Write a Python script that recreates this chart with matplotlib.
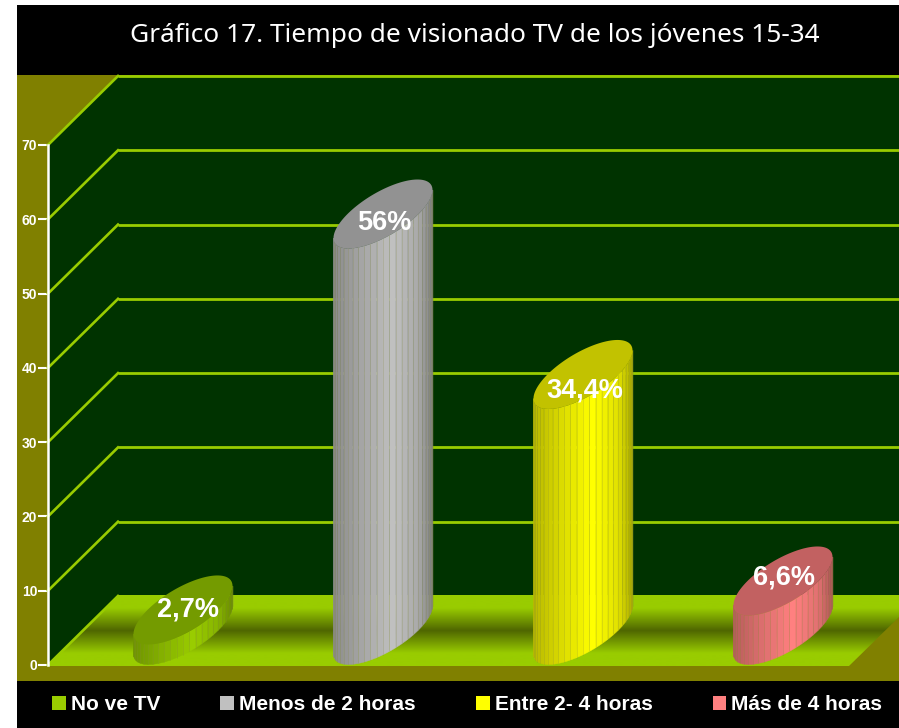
import numpy as np
import matplotlib
matplotlib.use('Agg')
import matplotlib.pyplot as plt
from matplotlib.colors import LinearSegmentedColormap, to_rgb
from matplotlib.patches import Patch, Polygon

categories = ['No ve TV', 'Menos de 2 horas', 'Entre 2- 4 horas', 'Más de 4 horas']
values = [2.7, 56, 34.4, 6.6]
value_labels = ['2,7%', '56%', '34,4%', '6,6%']
y_ticks = [0, 10, 20, 30, 40, 50, 60, 70]
title = 'Gráfico 17. Tiempo de visionado TV de los jóvenes 15-34'

colors = ['#99CC00', '#C0C0C0', '#FFFF00', '#FF8080']
OLIVE = '#808000'
WALL = '#003300'
LIME = '#99CC00'

W, H = 899, 728
# plot area in pixels
X0, Y0, Y70 = 48, 665, 145
PX = (Y0 - Y70) / 70.0
DEPTH_X, DEPTH_Y = 70, 69
centers = [183, 383, 583, 783]
label_shift = [(5, 0), (1, -9), (2, -16), (1, 3)]  # px, label against top centre

fig = plt.figure(figsize=(W / 100, H / 100), dpi=100, facecolor='white')

# background, pixel coordinates
bg = fig.add_axes([0, 0, 1, 1])
bg.set_xlim(0, W)
bg.set_ylim(H, 0)
bg.axis('off')
bg.add_patch(plt.Rectangle((17, 5), W - 17, H - 5, fc='black', ec='none'))
bg.add_patch(plt.Rectangle((17, 75), W - 17, 606, fc=OLIVE, ec='none'))
bg.add_patch(Polygon([(X0, Y70), (X0 + DEPTH_X, 76), (W, 76), (W, 596), (X0 + DEPTH_X, 596), (X0, Y0)],
                     fc=WALL, ec='none'))

floor_cmap = LinearSegmentedColormap.from_list('floor', [(0, LIME), (0.18, LIME), (0.5, '#4F6600'),
                                                         (0.82, LIME), (1, LIME)])
floor = Polygon([(X0, Y0 + 1), (X0 + DEPTH_X, 595), (W, 595), (W, 617), (849, Y0 + 1)], fc='none', ec='none')
bg.add_patch(floor)
im = bg.imshow(np.linspace(0, 1, 256).reshape(-1, 1), cmap=floor_cmap, aspect='auto',
               extent=(X0, W, Y0 + 1, 595), zorder=1.5)
im.set_clip_path(floor)
bg.set_xlim(0, W)
bg.set_ylim(H, 0)

# chart axes, y in data units
ax = fig.add_axes([X0 / W, 1 - Y0 / H, (W - X0) / W, (Y0 - Y70) / H])
ax.patch.set_alpha(0)
ax.set_xlim(X0, W)
ax.set_ylim(0, 70)
for s in ['top', 'right', 'bottom']:
    ax.spines[s].set_visible(False)
ax.spines['left'].set_color('white')
ax.spines['left'].set_linewidth(1.8)
ax.set_xticks([])
ax.set_yticks(y_ticks)
ax.tick_params(axis='y', length=7.2, width=1.5, color='white', labelcolor='white', pad=0.5)
for t in ax.get_yticklabels():
    t.set_fontfamily('Liberation Sans')
    t.set_fontweight('bold')
    t.set_fontsize(10)

for v in y_ticks:
    if v > 0:
        ax.plot([X0 + DEPTH_X, W], [v + DEPTH_Y / PX] * 2, color=LIME, lw=2.0, clip_on=False, zorder=2,
                solid_capstyle='butt')
    ax.plot([X0, X0 + DEPTH_X], [v, v + DEPTH_Y / PX], color=LIME, lw=1.9, clip_on=False, zorder=2)

# tilted cylinders
k = 34.5
rx = 35.5
phi = np.arctan2(k, rx)
mid = 35 / PX


def ring(cx, v, t):
    return cx + rx * np.cos(t) + k * np.sin(t), v + mid + (k / PX) * np.sin(t)


def shade(u):
    return np.interp(u, [0, 0.3, 0.6, 0.85, 1], [0.72, 0.87, 1.0, 0.88, 0.68])


for cx, v, c, lab, shift in zip(centers, values, colors, value_labels, label_shift):
    base = np.array(to_rgb(c))
    ts = np.linspace(phi + np.pi, phi + 2 * np.pi, 25)
    for t1, t2 in zip(ts[:-1], ts[1:]):
        seg = np.linspace(t1, t2, 4)
        x_b, y_b = ring(cx, 0, seg)
        x_t, y_t = ring(cx, v, seg)
        u = ((x_b.mean() - cx) / 50 + 1) / 2
        col = base * shade(u)
        ax.fill(np.r_[x_b, x_t[::-1]], np.r_[y_b, y_t[::-1]], color=col, lw=0.3, zorder=3, clip_on=False)
        ax.plot([x_t[-1], x_b[-1]], [y_t[-1], y_b[-1]], color='#80863A', lw=0.5, alpha=0.3, zorder=3.1,
                clip_on=False)
    tt = np.linspace(0, 2 * np.pi, 120)
    x_e, y_e = ring(cx, v, tt)
    ax.fill(x_e, y_e, color=base * 0.76, lw=0, zorder=4, clip_on=False)
    ax.text(cx + shift[0], v + mid + shift[1] / PX, lab, color='white', fontsize=19.5,
            fontfamily='Liberation Sans', fontweight='bold', ha='center', va='center', zorder=5)

handles = [Patch(fc=c, ec='none') for c in colors]
fig.legend(handles, categories, ncol=4, frameon=False, loc='center left',
           bbox_to_anchor=(33 / W, 1 - 704.5 / H), prop={'family': 'Liberation Sans', 'weight': 'bold', 'size': 15},
           labelcolor='white', handlelength=0.67, handleheight=0.67, handletextpad=0.24, columnspacing=2.88)

bg.text(475, 36, title, color='white', fontsize=18.9, fontfamily='Noto Sans', ha='center', va='center')

fig.savefig('out.png', dpi=100, facecolor='white')
